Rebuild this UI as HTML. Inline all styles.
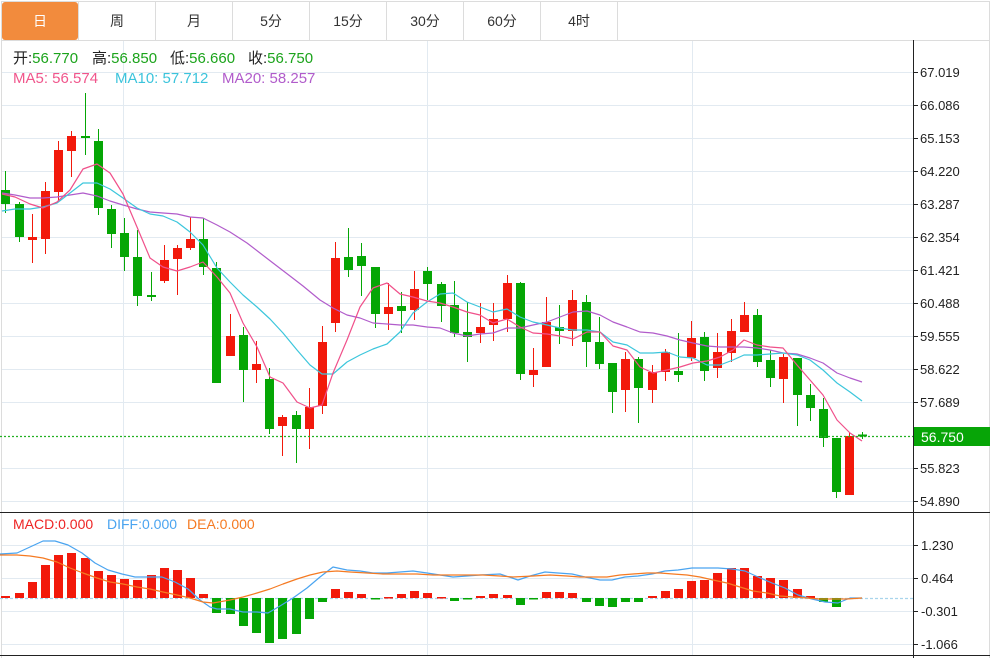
<!DOCTYPE html>
<html><head><meta charset="utf-8"><style>
html,body{margin:0;padding:0;background:#fff;}
svg{display:block;font-family:"Liberation Sans","Noto Sans CJK SC",sans-serif;}
</style></head><body>
<svg width="1000" height="658" viewBox="0 0 1000 658" xmlns="http://www.w3.org/2000/svg">
<rect x="0" y="0" width="1000" height="658" fill="#fff"/>
<!-- tabs -->
<g stroke="#dcdcdc" stroke-width="1" fill="none">
<line x1="1" y1="1.5" x2="990" y2="1.5"/>
<line x1="1" y1="40.5" x2="990" y2="40.5"/>
<line x1="1.5" y1="1" x2="1.5" y2="658"/>
<line x1="989.5" y1="1" x2="989.5" y2="658"/>
<line x1="78.5" y1="1" x2="78.5" y2="40"/>
<line x1="155.5" y1="1" x2="155.5" y2="40"/>
<line x1="232.5" y1="1" x2="232.5" y2="40"/>
<line x1="309.5" y1="1" x2="309.5" y2="40"/>
<line x1="386.5" y1="1" x2="386.5" y2="40"/>
<line x1="463.5" y1="1" x2="463.5" y2="40"/>
<line x1="540.5" y1="1" x2="540.5" y2="40"/>
<line x1="617.5" y1="1" x2="617.5" y2="40"/>
</g>
<rect x="2" y="2" width="76" height="38" rx="3" fill="#f28b3d"/>
<g font-size="14" text-anchor="middle" fill="#333">
<text x="40" y="26" fill="#fff">日</text>
<text x="117" y="26">周</text>
<text x="194" y="26">月</text>
<text x="271" y="26">5分</text>
<text x="348" y="26">15分</text>
<text x="425" y="26">30分</text>
<text x="502" y="26">60分</text>
<text x="579" y="26">4时</text>
</g>
<!-- grid -->
<g stroke="#e2eaf1" stroke-width="1">
<line x1="2" y1="72.5" x2="913" y2="72.5"/>
<line x1="2" y1="105.5" x2="913" y2="105.5"/>
<line x1="2" y1="138.5" x2="913" y2="138.5"/>
<line x1="2" y1="171.5" x2="913" y2="171.5"/>
<line x1="2" y1="204.5" x2="913" y2="204.5"/>
<line x1="2" y1="237.5" x2="913" y2="237.5"/>
<line x1="2" y1="270.5" x2="913" y2="270.5"/>
<line x1="2" y1="303.5" x2="913" y2="303.5"/>
<line x1="2" y1="336.5" x2="913" y2="336.5"/>
<line x1="2" y1="369.5" x2="913" y2="369.5"/>
<line x1="2" y1="402.5" x2="913" y2="402.5"/>
<line x1="2" y1="468.5" x2="913" y2="468.5"/>
<line x1="2" y1="501.5" x2="913" y2="501.5"/>
<line x1="2" y1="545.5" x2="913" y2="545.5"/>
<line x1="2" y1="578.5" x2="913" y2="578.5"/>
<line x1="2" y1="611.5" x2="913" y2="611.5"/>
<line x1="2" y1="644.5" x2="913" y2="644.5"/>
<line x1="123.5" y1="41" x2="123.5" y2="655"/>
<line x1="427.5" y1="41" x2="427.5" y2="655"/>
<line x1="692.5" y1="41" x2="692.5" y2="655"/>
</g>
<!-- legends -->
<g font-size="15">
<text x="13" y="63"><tspan fill="#222">开:</tspan><tspan fill="#1ca41c">56.770</tspan></text>
<text x="92" y="63"><tspan fill="#222">高:</tspan><tspan fill="#1ca41c">56.850</tspan></text>
<text x="170" y="63"><tspan fill="#222">低:</tspan><tspan fill="#1ca41c">56.660</tspan></text>
<text x="248" y="63"><tspan fill="#222">收:</tspan><tspan fill="#1ca41c">56.750</tspan></text>
<text x="13" y="83" fill="#f0568c">MA5: 56.574</text>
<text x="115" y="83" fill="#3cc4dc">MA10: 57.712</text>
<text x="222" y="83" fill="#b15ccb">MA20: 58.257</text>
</g>
<g font-size="14">
<text x="13" y="529" fill="#ee2424">MACD:0.000</text>
<text x="107" y="529" fill="#4aa4f0">DIFF:0.000</text>
<text x="187" y="529" fill="#f57a22">DEA:0.000</text>
</g>
<!-- candles -->
<g fill="#05a605">
<rect x="1" y="190" width="9" height="14"/><rect x="15" y="204" width="9" height="33"/>
<rect x="81" y="136" width="9" height="2"/><rect x="94" y="141" width="9" height="67"/>
<rect x="107" y="209" width="9" height="25"/><rect x="120" y="233" width="9" height="24"/>
<rect x="133" y="257" width="9" height="39"/><rect x="147" y="295" width="9" height="2"/>
<rect x="199" y="239" width="9" height="28"/><rect x="212" y="268" width="9" height="115"/>
<rect x="239" y="335" width="9" height="35"/><rect x="265" y="379" width="9" height="50"/>
<rect x="292" y="415" width="9" height="14"/><rect x="344" y="257" width="9" height="13"/>
<rect x="357" y="256" width="9" height="10"/><rect x="371" y="267" width="9" height="47"/>
<rect x="397" y="306" width="9" height="5"/><rect x="423" y="271" width="9" height="13"/>
<rect x="437" y="284" width="9" height="22"/><rect x="450" y="305" width="9" height="28"/>
<rect x="463" y="332" width="9" height="5"/><rect x="516" y="283" width="9" height="91"/>
<rect x="555" y="327" width="9" height="4"/><rect x="582" y="302" width="9" height="40"/>
<rect x="595" y="342" width="9" height="22"/><rect x="608" y="363" width="9" height="29"/>
<rect x="634" y="359" width="9" height="29"/><rect x="674" y="371" width="9" height="4"/>
<rect x="700" y="337" width="9" height="34"/><rect x="753" y="315" width="9" height="47"/>
<rect x="766" y="360" width="9" height="18"/><rect x="793" y="358" width="9" height="37"/>
<rect x="806" y="395" width="9" height="13"/><rect x="819" y="409" width="9" height="29"/>
<rect x="832" y="438" width="9" height="54"/><rect x="858" y="434.5" width="9" height="2"/>
</g>
<g stroke="#05a605" stroke-width="1">
<line x1="5.5" y1="171" x2="5.5" y2="213"/><line x1="19.5" y1="202" x2="19.5" y2="242"/>
<line x1="85.5" y1="93" x2="85.5" y2="155"/><line x1="98.5" y1="129" x2="98.5" y2="215"/>
<line x1="111.5" y1="205" x2="111.5" y2="248"/><line x1="124.5" y1="218" x2="124.5" y2="271"/>
<line x1="137.5" y1="230" x2="137.5" y2="306"/><line x1="151.5" y1="272" x2="151.5" y2="301"/>
<line x1="203.5" y1="218" x2="203.5" y2="275"/><line x1="216.5" y1="262" x2="216.5" y2="383"/>
<line x1="243.5" y1="327" x2="243.5" y2="402"/><line x1="269.5" y1="368" x2="269.5" y2="434"/>
<line x1="296.5" y1="411" x2="296.5" y2="463"/><line x1="348.5" y1="228" x2="348.5" y2="277"/>
<line x1="361.5" y1="243" x2="361.5" y2="296"/><line x1="375.5" y1="267" x2="375.5" y2="328"/>
<line x1="401.5" y1="292" x2="401.5" y2="333"/><line x1="427.5" y1="267" x2="427.5" y2="300"/>
<line x1="441.5" y1="282" x2="441.5" y2="322"/><line x1="454.5" y1="281" x2="454.5" y2="337"/>
<line x1="467.5" y1="302" x2="467.5" y2="362"/><line x1="520.5" y1="282" x2="520.5" y2="380"/>
<line x1="559.5" y1="305" x2="559.5" y2="344"/><line x1="586.5" y1="295" x2="586.5" y2="367"/>
<line x1="599.5" y1="317" x2="599.5" y2="369"/><line x1="612.5" y1="363" x2="612.5" y2="413"/>
<line x1="638.5" y1="357" x2="638.5" y2="423"/><line x1="678.5" y1="333" x2="678.5" y2="382"/>
<line x1="704.5" y1="332" x2="704.5" y2="381"/><line x1="757.5" y1="309" x2="757.5" y2="367"/>
<line x1="770.5" y1="350" x2="770.5" y2="387"/><line x1="797.5" y1="358" x2="797.5" y2="426"/>
<line x1="810.5" y1="384" x2="810.5" y2="421"/><line x1="823.5" y1="398" x2="823.5" y2="447"/>
<line x1="836.5" y1="438" x2="836.5" y2="498"/><line x1="862.5" y1="432" x2="862.5" y2="439"/>
</g>
<g fill="#f2190b">
<rect x="28" y="237" width="9" height="3"/><rect x="41" y="191" width="9" height="48"/>
<rect x="54" y="150" width="9" height="42"/><rect x="67" y="136" width="9" height="15"/>
<rect x="160" y="260" width="9" height="21"/><rect x="173" y="248" width="9" height="11"/>
<rect x="186" y="239" width="9" height="9"/><rect x="226" y="336" width="9" height="20"/>
<rect x="252" y="364" width="9" height="6"/><rect x="278" y="417" width="9" height="9"/>
<rect x="305" y="407" width="9" height="22"/><rect x="318" y="342" width="9" height="64"/>
<rect x="331" y="258" width="9" height="65"/><rect x="384" y="307" width="9" height="7"/>
<rect x="410" y="289" width="9" height="21"/><rect x="476" y="327" width="9" height="6"/>
<rect x="489" y="319" width="9" height="6"/><rect x="503" y="283" width="9" height="36"/>
<rect x="529" y="370" width="9" height="5"/><rect x="542" y="322" width="9" height="45"/>
<rect x="568" y="300" width="9" height="31"/><rect x="621" y="359" width="9" height="31"/>
<rect x="648" y="372" width="9" height="18"/><rect x="661" y="352" width="9" height="20"/>
<rect x="687" y="338" width="9" height="20"/><rect x="713" y="352" width="9" height="16"/>
<rect x="727" y="331" width="9" height="22"/><rect x="740" y="315" width="9" height="17"/>
<rect x="779" y="357" width="9" height="22"/><rect x="845" y="436" width="9" height="59"/>
</g>
<g stroke="#f2190b" stroke-width="1">
<line x1="32.5" y1="214" x2="32.5" y2="263"/><line x1="45.5" y1="182" x2="45.5" y2="254"/>
<line x1="58.5" y1="141" x2="58.5" y2="202"/><line x1="71.5" y1="131" x2="71.5" y2="177"/>
<line x1="164.5" y1="245" x2="164.5" y2="283"/><line x1="177.5" y1="245" x2="177.5" y2="295"/>
<line x1="190.5" y1="217" x2="190.5" y2="250"/><line x1="230.5" y1="314" x2="230.5" y2="356"/>
<line x1="256.5" y1="341" x2="256.5" y2="383"/><line x1="282.5" y1="415" x2="282.5" y2="456"/>
<line x1="309.5" y1="388" x2="309.5" y2="449"/><line x1="322.5" y1="326" x2="322.5" y2="414"/>
<line x1="335.5" y1="242" x2="335.5" y2="332"/><line x1="388.5" y1="283" x2="388.5" y2="330"/>
<line x1="414.5" y1="271" x2="414.5" y2="320"/><line x1="480.5" y1="303" x2="480.5" y2="343"/>
<line x1="493.5" y1="303" x2="493.5" y2="341"/><line x1="507.5" y1="275" x2="507.5" y2="332"/>
<line x1="533.5" y1="348" x2="533.5" y2="387"/><line x1="546.5" y1="297" x2="546.5" y2="367"/>
<line x1="572.5" y1="290" x2="572.5" y2="346"/><line x1="625.5" y1="352" x2="625.5" y2="412"/>
<line x1="652.5" y1="365" x2="652.5" y2="403"/><line x1="665.5" y1="349" x2="665.5" y2="381"/>
<line x1="691.5" y1="321" x2="691.5" y2="361"/><line x1="717.5" y1="333" x2="717.5" y2="378"/>
<line x1="731.5" y1="319" x2="731.5" y2="362"/><line x1="744.5" y1="302" x2="744.5" y2="332"/>
<line x1="783.5" y1="354" x2="783.5" y2="403"/><line x1="849.5" y1="433" x2="849.5" y2="495"/>
</g>
<!-- MA lines -->
<g fill="none" stroke-width="1.2" stroke-linejoin="round">
<polyline stroke="#b15ccb" points="2,193 15,195 30,198 43,198 57,197 70,195 83,193 97,196 110,201 123,205 137,209 150,212 163,213 177,214 190,217 203,218 217,225 230,232 247,243 260,253 273,263 290,276 303,286 320,300 333,308 347,315 360,318 373,323 387,324 400,325 413,325 427,327 440,328 453,333 467,336 480,334 493,333 507,328 520,328 533,325 547,322 560,317 573,312 587,311 600,315 613,322 627,327 640,332 653,333 667,336 680,340 693,343 707,346 720,347 733,347 744,347 757,348 770,350 783,353 797,354 810,358 823,363 837,373 850,378 862,382"/>
<polyline stroke="#3cc6dc" points="2,211 15,209 30,209 43,207 57,203 70,193 83,183 97,183 110,189 123,198 137,208 150,214 163,216 177,222 190,232 203,245 217,268 230,282 243,295 257,307 270,319 283,333 297,350 310,365 322,374 333,374 347,362 360,355 373,349 387,344 400,332 413,313 427,302 440,294 453,293 467,302 480,307 493,312 507,309 520,317 533,322 547,325 560,328 573,330 587,330 600,332 613,342 627,345 640,353 653,353 667,352 680,357 693,358 707,365 720,365 733,360 744,355 757,355 770,354 783,353 797,355 810,360 823,370 837,383 850,392 862,401"/>
<polyline stroke="#f0508a" points="2,194 15,197 30,204 43,208 57,202 70,190 83,169 97,164 110,173 123,194 137,227 150,258 163,267 177,271 190,267 203,262 217,277 230,293 243,323 257,347 270,377 283,383 297,402 310,408 322,405 333,373 347,340 360,307 373,288 387,283 400,294 413,297 427,301 440,303 453,307 467,312 480,315 493,323 507,319 520,327 533,333 547,334 560,336 573,339 587,332 600,332 613,346 627,350 640,367 653,373 667,370 680,367 693,363 707,361 720,357 733,350 744,340 757,345 770,347 783,348 797,365 810,380 823,395 837,420 850,433 862,441"/>
</g>
<!-- current price line -->
<line x1="0" y1="436.5" x2="913" y2="436.5" stroke="#22b022" stroke-width="1.2" stroke-dasharray="2,2"/>
<!-- MACD zero line -->
<line x1="0" y1="598.5" x2="913" y2="598.5" stroke="#a8d4ec" stroke-width="1.2" stroke-dasharray="3,2"/>
<!-- MACD bars -->
<g fill="#f2190b">
<rect x="1" y="596" width="9" height="2"/><rect x="15" y="593" width="9" height="5"/>
<rect x="28" y="582" width="9" height="16"/><rect x="41" y="565" width="9" height="33"/>
<rect x="54" y="555" width="9" height="43"/><rect x="67" y="553" width="9" height="45"/>
<rect x="81" y="558" width="9" height="40"/><rect x="94" y="571" width="9" height="27"/>
<rect x="107" y="575" width="9" height="23"/><rect x="120" y="579" width="9" height="19"/>
<rect x="133" y="580" width="9" height="18"/><rect x="147" y="575" width="9" height="23"/>
<rect x="160" y="568" width="9" height="30"/><rect x="173" y="570" width="9" height="28"/>
<rect x="186" y="578" width="9" height="20"/><rect x="199" y="594" width="9" height="4"/>
<rect x="331" y="589" width="9" height="9"/><rect x="344" y="592" width="9" height="6"/>
<rect x="357" y="594" width="9" height="4"/><rect x="384" y="597" width="9" height="1.5"/>
<rect x="397" y="594" width="9" height="4"/><rect x="410" y="591" width="9" height="7"/>
<rect x="423" y="593" width="9" height="5"/><rect x="437" y="597" width="9" height="1.5"/>
<rect x="476" y="596" width="9" height="2"/><rect x="489" y="594" width="9" height="4"/>
<rect x="503" y="595" width="9" height="3"/><rect x="542" y="592" width="9" height="6"/>
<rect x="555" y="592" width="9" height="6"/><rect x="568" y="593" width="9" height="5"/>
<rect x="648" y="596" width="9" height="2"/><rect x="661" y="591" width="9" height="7"/>
<rect x="674" y="589" width="9" height="9"/><rect x="687" y="581" width="9" height="17"/>
<rect x="700" y="580" width="9" height="18"/><rect x="713" y="573" width="9" height="25"/>
<rect x="727" y="568" width="9" height="30"/><rect x="740" y="568" width="9" height="30"/>
<rect x="753" y="576" width="9" height="22"/><rect x="766" y="578" width="9" height="20"/>
<rect x="779" y="580" width="9" height="18"/><rect x="793" y="589" width="9" height="9"/>
<rect x="806" y="596" width="9" height="2"/>
</g>
<g fill="#05a605">
<rect x="212" y="598" width="9" height="15"/><rect x="226" y="598" width="9" height="16"/>
<rect x="239" y="598" width="9" height="28"/><rect x="252" y="598" width="9" height="35"/>
<rect x="265" y="598" width="9" height="45"/><rect x="278" y="598" width="9" height="41"/>
<rect x="292" y="598" width="9" height="36"/><rect x="305" y="598" width="9" height="21"/>
<rect x="318" y="598" width="9" height="4"/><rect x="371" y="598" width="9" height="1.5"/>
<rect x="450" y="598" width="9" height="3"/><rect x="463" y="598" width="9" height="1.5"/>
<rect x="516" y="598" width="9" height="7"/><rect x="529" y="598" width="9" height="1.5"/>
<rect x="582" y="598" width="9" height="4"/><rect x="595" y="598" width="9" height="8"/>
<rect x="608" y="598" width="9" height="9"/><rect x="621" y="598" width="9" height="4"/>
<rect x="634" y="598" width="9" height="4"/><rect x="819" y="598" width="9" height="4"/>
<rect x="832" y="598" width="9" height="9"/>
</g>
<g fill="none" stroke-width="1.2" stroke-linejoin="round">
<polyline stroke="#4aa4f0" points="0,554 17,553 30,547 43,541 55,541 68,545 82,553 95,563 108,570 122,574 135,577 148,577 162,577 175,582 188,589 200,600 210,607 217,609 230,609 243,612 257,612 268,613 280,606 293,598 307,588 320,577 333,567 347,570 360,571 373,573 387,573 400,572 413,571 427,573 440,575 453,577 467,576 480,575 500,574 518,580 530,576 545,572 558,573 572,574 585,577 600,580 612,580 625,577 638,576 652,574 665,571 678,570 692,568 705,568 718,568 732,569 745,571 758,577 772,583 785,588 798,595 812,599 825,602 838,603 850,598 862,598"/>
<polyline stroke="#f57a22" points="0,555 17,555 30,556 43,558 57,562 70,568 83,573 97,578 110,582 123,584 137,587 150,589 163,592 177,595 190,598 203,602 213,603 230,600 243,597 257,593 270,589 283,584 297,579 310,575 323,572 337,571 350,572 367,573 383,574 400,574 417,574 433,575 450,575 467,575 483,575 500,576 513,577 533,576 550,575 567,576 580,577 593,577 607,577 620,575 633,574 647,573 660,573 673,574 687,575 700,577 713,580 727,583 740,587 753,591 767,593 780,596 793,597 807,598 820,599 833,599 847,599 862,598"/>
</g>
<!-- axes / separators -->
<g stroke="#222" stroke-width="1">
<line x1="913.5" y1="40" x2="913.5" y2="658"/>
<line x1="0" y1="512.5" x2="990" y2="512.5"/>
<line x1="0" y1="655.5" x2="990" y2="655.5"/>
<line x1="913" y1="72.5" x2="918" y2="72.5"/>
<line x1="913" y1="105.5" x2="918" y2="105.5"/>
<line x1="913" y1="138.5" x2="918" y2="138.5"/>
<line x1="913" y1="171.5" x2="918" y2="171.5"/>
<line x1="913" y1="204.5" x2="918" y2="204.5"/>
<line x1="913" y1="237.5" x2="918" y2="237.5"/>
<line x1="913" y1="270.5" x2="918" y2="270.5"/>
<line x1="913" y1="303.5" x2="918" y2="303.5"/>
<line x1="913" y1="336.5" x2="918" y2="336.5"/>
<line x1="913" y1="369.5" x2="918" y2="369.5"/>
<line x1="913" y1="402.5" x2="918" y2="402.5"/>
<line x1="913" y1="468.5" x2="918" y2="468.5"/>
<line x1="913" y1="501.5" x2="918" y2="501.5"/>
<line x1="913" y1="545.5" x2="918" y2="545.5"/>
<line x1="913" y1="578.5" x2="918" y2="578.5"/>
<line x1="913" y1="611.5" x2="918" y2="611.5"/>
<line x1="913" y1="644.5" x2="918" y2="644.5"/>
</g>
<rect x="914" y="427" width="76" height="19" fill="#07a507"/>
<g font-size="13" fill="#222">
<text x="920" y="77">67.019</text>
<text x="920" y="110">66.086</text>
<text x="920" y="143">65.153</text>
<text x="920" y="176">64.220</text>
<text x="920" y="209">63.287</text>
<text x="920" y="242">62.354</text>
<text x="920" y="275">61.421</text>
<text x="920" y="308">60.488</text>
<text x="920" y="341">59.555</text>
<text x="920" y="374">58.622</text>
<text x="920" y="407">57.689</text>
<text x="920" y="473">55.823</text>
<text x="920" y="506">54.890</text>
<text x="921" y="550">1.230</text>
<text x="921" y="583">0.464</text>
<text x="921" y="616">-0.301</text>
<text x="921" y="649">-1.066</text>
</g>
<text x="921" y="442" font-size="14" fill="#fff">56.750</text>
</svg>
</body></html>
